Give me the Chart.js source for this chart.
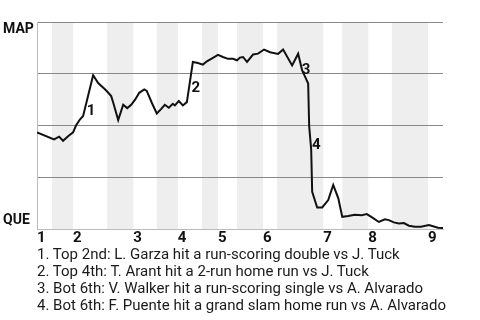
<!DOCTYPE html>
<html>
<head>
<meta charset="utf-8">
<script src="https://cdn.jsdelivr.net/npm/chart.js@4.4.1/dist/chart.umd.min.js"></script>
<style>
  html, body { margin: 0; padding: 0; background: #ffffff; }
  body { width: 480px; height: 320px; position: relative; overflow: hidden; }
  #wrap { position: absolute; left: 0; top: 0; width: 480px; height: 247px; }
  #notes { position: absolute; left: 37px; top: 245.5px; font-family: Roboto, "Noto Sans", sans-serif;
           font-size: 15px; line-height: 17.3px; color: #1a1a1a; white-space: nowrap; }
</style>
</head>
<body>
<div id="wrap"><canvas id="c"></canvas></div>
<div id="notes"></div>
<script>
// ---- data ----
const teams = ['MAP', 'QUE'];
// half-inning start positions (game progress, in plate appearances)
const halfInningStarts = [0, 3, 7.2, 14, 19.2, 23.9, 28.1, 32.9, 36.1, 39.9, 45.1, 47.9, 57.1, 60.9, 66.1, 70.8, 78, 81];
const inningLabels = ['1', '2', '3', '4', '5', '6', '7', '8', '9'];
// game progress of each event
const progress = [0, 3.4, 4.4, 5.2, 6.2, 7.2, 7.8, 8.6, 9.2, 11.2, 12.2, 13.4, 14, 14.8, 15.2, 16.2, 17.2, 18, 18.8, 19.6,
  20.4, 21.4, 21.9, 22.9, 23.9, 24.7, 25.5, 26.3, 27.1, 27.5, 28.3, 29.1, 29.9, 31.1, 32.1, 33.1, 33.9, 35.1, 36.1, 37.1,
  38.1, 39.1, 39.9, 40.5, 41.1, 41.9, 43.1, 44.1, 45.3, 46.5, 48.1, 49.1, 50.9, 52.1, 52.9, 53.5, 54.1, 54.3, 54.7, 54.9,
  55.9, 56.9, 58.1, 59.1, 60.1, 60.9, 62.1, 63.4, 64.8, 65.8, 67, 68.2, 69.4, 70.2, 71.2, 72.2, 73.2, 74.2, 75.4, 76.6,
  78.2, 79, 80, 81];
// MAP win probability (%)
const mapWinProb = [46.6, 43.3, 44.6, 42.6, 44.8, 46.7, 50.1, 53.0, 54.6, 74.3, 70.5, 67.9, 66.4, 64.2, 61.1, 52.6, 60.0, 58.4, 60.0, 62.6,
  65.8, 67.4, 66.7, 61.0, 55.8, 57.8, 60.0, 58.6, 60.5, 59.7, 61.8, 59.7, 61.3, 80.7, 80.2, 79.4, 81.0, 82.7, 84.1, 83.1,
  82.2, 82.2, 81.5, 82.8, 83.1, 80.7, 84.3, 84.7, 86.7, 85.4, 84.6, 86.7, 79.0, 84.7, 76.6, 73.5, 70.3, 49.7, 38.5, 18.0,
  10.4, 10.4, 14.0, 21.3, 14.9, 5.9, 6.3, 6.9, 6.7, 7.2, 5.4, 3.4, 4.7, 4.3, 3.2, 2.7, 2.9, 1.6, 1.1, 1.1,
  1.9, 1.3, 0.6, 0.5];
// key plays: marker, game progress, win probability
const playMarks = ['1', '2', '3', '4'];
const playProgress = [10.8, 31.7, 53.7, 55.7];
const playProb = [57.1, 67.9, 76.6, 40.4];
const playNotes = [
  '1. Top 2nd: L. Garza hit a run-scoring double vs J. Tuck',
  '2. Top 4th: T. Arant hit a 2-run home run vs J. Tuck',
  '3. Bot 6th: V. Walker hit a run-scoring single vs A. Alvarado',
  '4. Bot 6th: F. Puente hit a grand slam home run vs A. Alvarado'
];

document.getElementById('notes').innerHTML = playNotes.map(t => '<div>' + t + '</div>').join('');

const inningStarts = halfInningStarts.filter((v, i) => i % 2 === 0 && i < halfInningStarts.length - 1);
const FONT = 'Roboto, "Noto Sans", sans-serif';

const decor = {
  id: 'decor',
  beforeDraw(chart) {
    const { ctx, chartArea: a, scales: { x } } = chart;
    ctx.save();
    ctx.fillStyle = '#eeeeee';
    for (let i = 1; i < halfInningStarts.length - 1; i += 2) {
      const x0 = x.getPixelForValue(halfInningStarts[i]);
      const x1 = x.getPixelForValue(halfInningStarts[i + 1]);
      ctx.fillRect(x0, a.top, x1 - x0, a.bottom - a.top);
    }
    ctx.restore();
  },
  beforeDatasetsDraw(chart) {
    const { ctx, scales: { x, y } } = chart;
    ctx.save();
    ctx.fillStyle = '#111111';
    ctx.font = 'bold 15px ' + FONT;
    ctx.textAlign = 'center';
    ctx.textBaseline = 'middle';
    for (let i = 0; i < playMarks.length; i++) {
      ctx.fillText(playMarks[i], x.getPixelForValue(playProgress[i]), y.getPixelForValue(playProb[i]));
    }
    ctx.restore();
  },
  afterDraw(chart) {
    const { ctx, scales: { y } } = chart;
    ctx.save();
    ctx.fillStyle = '#111111';
    ctx.font = 'bold 14px ' + FONT;
    ctx.textAlign = 'left';
    ctx.textBaseline = 'middle';
    ctx.fillText(teams[0], 3, y.getPixelForValue(100) + 7.5);
    ctx.fillText(teams[1], 3, y.getPixelForValue(0) - 9);
    ctx.restore();
  }
};

new Chart(document.getElementById('c'), {
  type: 'line',
  data: {
    datasets: [{
      data: progress.map((p, i) => ({ x: p, y: mapWinProb[i] })),
      borderColor: '#111111',
      borderWidth: 2,
      pointRadius: 0,
      tension: 0,
      fill: false
    }]
  },
  options: {
    responsive: true,
    maintainAspectRatio: false,
    animation: false,
    devicePixelRatio: 1,
    layout: { padding: { top: 22, left: 37, right: 37, bottom: 0 } },
    plugins: { legend: { display: false }, tooltip: { enabled: false } },
    scales: {
      x: {
        type: 'linear',
        min: 0,
        max: 81,
        afterBuildTicks(scale) { scale.ticks = inningStarts.map(v => ({ value: v })); },
        ticks: {
          autoSkip: false,
          maxRotation: 0,
          align: 'start',
          padding: 0,
          color: '#111111',
          font: { family: FONT, size: 15, weight: 'bold' },
          callback: (v, i) => inningLabels[i]
        },
        grid: { color: 'rgba(0,0,0,0)', drawTicks: false },
        border: { display: true, color: '#bbbbbb', width: 1 }
      },
      y: {
        min: 0,
        max: 100,
        ticks: { display: false, stepSize: 25 },
        grid: { drawTicks: false, color: ctx => (ctx.tick && ctx.tick.value === 0) ? '#bbbbbb' : '#888888', lineWidth: 1 },
        border: { display: true, color: '#bbbbbb', width: 1 }
      }
    }
  },
  plugins: [decor]
});
</script>
</body>
</html>
